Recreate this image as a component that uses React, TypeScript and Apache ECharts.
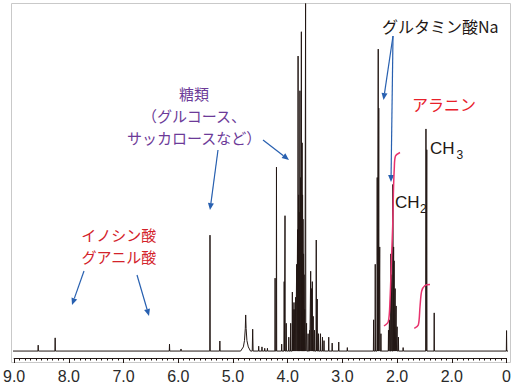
import React, { useEffect, useRef } from "react";
import * as echarts from "echarts";

// x axis (chemical shift, ppm) – tick labels as printed in the reference
const tickLabels = ["0", "2.0", "2.0", "3.0", "4.0", "5.0", "6.0", "7.0", "8.0", "9.0"];

// peaks: [ppm, intensity, halfWidth?]
const nucleotidePeaks = [
  [8.56, 1.7], [8.25, 3.8], [6.16, 2.0], [5.95, 0.6],
];
const anomericPeaks = [
  [5.42, 33.4], [5.24, 2.9], [4.64, 6.3, 0.008], [4.53, 1.4], [4.47, 1.2], [4.42, 0.8], [4.37, 0.8],
];
// broad water signal, read point by point
const waterProfile = [
  [4.86, 0], [4.81, 1.2], [4.79, 3.0], [4.775, 6.5], [4.768, 10.4], [4.76, 6.5], [4.745, 3.0], [4.72, 1.2], [4.68, 0],
];
const sugarPeaks = [
  [4.23, 21], [4.205, 53], [4.11, 2], [4.064, 20], [4.049, 39], [4.027, 8], [3.98, 4],
  [3.945, 8], [3.915, 17], [3.9, 12], [3.885, 14], [3.87, 12], [3.855, 15.5], [3.836, 25],
  [3.82, 35], [3.81, 85], [3.8, 45], [3.788, 40], [3.776, 75], [3.762, 50], [3.75, 92],
  [3.736, 60], [3.728, 45], [3.72, 38], [3.71, 28], [3.7, 22], [3.69, 12], [3.673, 101],
  [3.655, 8], [3.627, 5], [3.6, 6], [3.58, 23], [3.564, 18], [3.55, 20], [3.533, 10],
  [3.51, 6], [3.478, 32], [3.46, 15], [3.436, 5], [3.4, 5], [3.364, 4], [3.336, 3],
  [3.25, 4], [3.187, 2.3], [3.067, 2.6], [2.91, 1],
];
const glutamatePeaks = [
  [2.43, 9], [2.4, 25], [2.364, 50], [2.345, 87], [2.336, 70], [2.318, 30], [2.296, 5],
  [2.158, 6], [2.14, 9], [2.115, 28], [2.1, 22], [2.078, 48], [2.064, 30], [2.055, 26],
  [2.036, 18], [2.018, 13], [2.0, 7], [1.976, 4], [1.89, 1],
];
const alaninePeaks = [[1.473, 64], [1.458, 58], [1.322, 11]];
const referencePeaks = [[0.0, 5.9]];

// annotation texts
const glutamateLabel = "グルタミン酸Na";
const alanineLabel = "アラニン";
const sugarLabels = ["糖類", "（グルコース、", "サッカロースなど）"];
const nucleotideLabels = ["イノシン酸", "グアニル酸"];

const INK = "#231815";
const BLUE = "#2860b0";
const PINK = "#e8336e";
const JP = '"Noto Sans CJK JP", "Noto Sans", sans-serif';
const LAT = '"Liberation Sans", Arial, sans-serif';

function buildSpectrum() {
  const pts: number[][] = [[9.05, 0], [-0.1, 0]];
  const peaks = [
    ...nucleotidePeaks, ...anomericPeaks, ...sugarPeaks,
    ...glutamatePeaks, ...alaninePeaks, ...referencePeaks,
  ];
  peaks.forEach((p) => {
    const w = p[2] ?? 0.004;
    pts.push([p[0] + w, 0], [p[0], p[1]], [p[0] - w, 0]);
  });
  waterProfile.forEach((p) => pts.push([p[0], p[1]]));
  pts.sort((a, b) => b[0] - a[0]);
  return pts;
}

function arrow(x1: number, y1: number, x2: number, y2: number) {
  const dx = x2 - x1, dy = y2 - y1;
  const len = Math.hypot(dx, dy);
  const ux = dx / len, uy = dy / len;
  const hl = 7, hw = 3;
  const bx = x2 - ux * hl, by = y2 - uy * hl;
  return [
    { type: "line", shape: { x1, y1, x2: bx, y2: by }, style: { stroke: BLUE, lineWidth: 1.2 } },
    {
      type: "polygon",
      shape: { points: [[x2, y2], [bx - uy * hw, by + ux * hw], [bx + uy * hw, by - ux * hw]] },
      style: { fill: BLUE },
    },
  ];
}

function txt(text: string, x: number, y: number, fill: string, size: number, align = "center", family = JP, lineHeight = size) {
  return {
    type: "text",
    x,
    y,
    z: 10,
    style: {
      text, fill, fontSize: size, fontFamily: family, align, verticalAlign: "middle",
      lineHeight,
    },
  };
}

export default function App() {
  const ref = useRef<HTMLDivElement>(null);
  useEffect(() => {
    if (!ref.current) return;
    const chart = echarts.init(ref.current, undefined, { renderer: "svg" });
    const graphic: any[] = [
      {
        type: "rect",
        z: -1,
        shape: { x: 11.5, y: 3.5, width: 499, height: 359 },
        style: { fill: "none", stroke: "#c9c9c9", lineWidth: 1 },
      },
      ...arrow(393, 36, 383.5, 100),
      ...arrow(393, 36, 391, 182),
      ...arrow(218, 150, 210, 210),
      ...arrow(263, 140, 289, 160),
      ...arrow(84, 271, 72, 305),
      ...arrow(137, 275, 149, 316),
      {
        type: "polyline",
        z: 9,
        shape: {
          points: [[384, 326], [388.3, 321.7], [390, 300], [391.7, 253], [392.7, 226], [393.4, 193], [394.3, 168], [395.5, 156], [400, 152.5]],
          smooth: 0.3,
        },
        style: { stroke: PINK, lineWidth: 1.5, fill: "none" },
      },
      {
        type: "polyline",
        z: 9,
        shape: {
          points: [[414.3, 328.3], [418.3, 325], [420, 306.7], [421.7, 291], [425, 285.5], [430, 284.5]],
          smooth: 0.3,
        },
        style: { stroke: PINK, lineWidth: 1.5, fill: "none" },
      },
      txt(glutamateLabel, 382, 26, INK, 16, "left"),
      txt(alanineLabel, 444, 104, "#e8202a", 16),
      txt("CH", 430, 148, INK, 17, "left", LAT),
      txt("3", 456.5, 155, INK, 12, "left", LAT),
      txt("CH", 395, 202, INK, 17, "left", LAT),
      txt("2", 420, 209, INK, 12, "left", LAT),
      txt(sugarLabels.join("\n"), 194, 115.5, "#6c3a98", 15, "center", JP, 22),
      txt(nucleotideLabels.join("\n"), 118.8, 245.3, "#d3222a", 15, "center", JP, 22),
    ];
    chart.setOption({
      animation: false,
      grid: { left: 12, right: 7, top: 4, bottom: 28, containLabel: false },
      xAxis: {
        type: "value",
        inverse: true,
        min: 0,
        max: 9,
        interval: 1,
        axisLine: { show: true, onZero: false, lineStyle: { color: INK, width: 1 } },
        axisTick: { show: true, length: 5, lineStyle: { color: INK } },
        minorTick: { show: true, splitNumber: 10, length: 2.5, lineStyle: { color: INK } },
        splitLine: { show: false },
        axisLabel: {
          show: true,
          margin: 10,
          fontSize: 16,
          color: "#2a2a2a",
          fontFamily: LAT,
          showMinLabel: true,
          showMaxLabel: true,
          formatter: (v: number) => tickLabels[Math.round(v)],
        },
      },
      yAxis: { type: "value", min: -2, max: 100, show: false },
      series: [
        {
          type: "line",
          data: buildSpectrum(),
          showSymbol: false,
          symbol: "none",
          clip: true,
          silent: true,
          lineStyle: { color: INK, width: 1 },
          z: 3,
        },
      ],
      graphic,
    });
    return () => chart.dispose();
  }, []);
  return <div ref={ref} style={{ position: "absolute", left: 0, top: 0, width: 514, height: 386 }} />;
}
